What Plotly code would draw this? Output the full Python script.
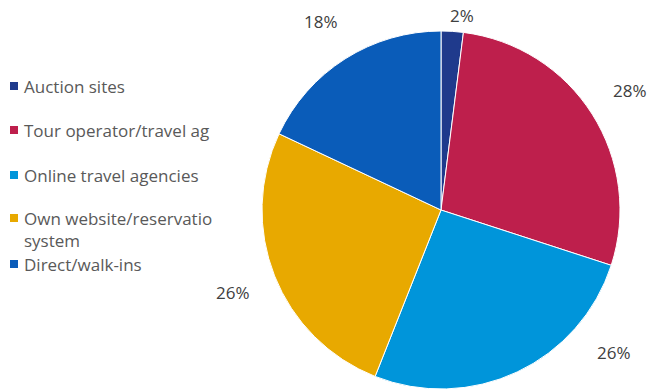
import math
import plotly.graph_objects as go

# Booking channel shares
channels = [
    "Auction sites",
    "Tour operator/travel agents",
    "Online travel agencies",
    "Own website/reservation system",
    "Direct/walk-ins",
]
shares = [2, 28, 26, 26, 18]
legend_text = [
    "Auction sites",
    "Tour operator/travel ag",
    "Online travel agencies",
    "Own website/reservatio<br>system",
    "Direct/walk-ins",
]
colors = ["#1f3a8c", "#be1f4c", "#0095da", "#e8a900", "#0a5cb9"]

W, H = 671, 389
FONT = "Open Sans"
TEXT_COLOR = "#595959"

dom_x = [262 / W, 620 / W]
dom_y = [0.0, (H - 31) / H]

fig = go.Figure(
    go.Pie(
        labels=channels,
        values=shares,
        sort=False,
        direction="clockwise",
        rotation=0,
        marker=dict(colors=colors, line=dict(color="white", width=1)),
        textinfo="none",
        hoverinfo="label+percent",
        showlegend=False,
        domain=dict(x=dom_x, y=dom_y),
    )
)

# Percentage labels placed outside each slice at its mid-angle,
# slid sideways along the label ring when they would leave the page
cx = (dom_x[0] + dom_x[1]) / 2 * W
cy = (1 - (dom_y[0] + dom_y[1]) / 2) * H
radius = (dom_x[1] - dom_x[0]) * W / 2
y_min, y_max = 16, H - 37
total = sum(shares)
acc = 0
annotations = []
for v in shares:
    mid = (acc + v / 2) / total * 2 * math.pi
    acc += v
    ring = (1.25 if v > 5 else 1.09) * radius
    px = cx + ring * math.sin(mid)
    py = cy - ring * math.cos(mid)
    if py > y_max or py < y_min:
        py = min(max(py, y_min), y_max)
        side = 1 if math.sin(mid) >= 0 else -1
        px = cx + side * math.sqrt(max(ring ** 2 - (py - cy) ** 2, 0))
    annotations.append(
        dict(
            x=px / W, y=1 - py / H, xref="paper", yref="paper",
            text=f"{round(v / total * 100)}%", showarrow=False,
            font=dict(family=FONT, size=17, color="#404040"),
            xanchor="center", yanchor="middle",
        )
    )

# Legend drawn as squares plus text rows
legend_rows = [86, 130, 175, 218, 264]
shapes = []
for name, col, ry in zip(legend_text, colors, legend_rows):
    shapes.append(
        dict(
            type="rect", xref="paper", yref="paper",
            x0=10 / W, x1=18 / W, y0=1 - (ry + 4) / H, y1=1 - (ry - 4) / H,
            fillcolor=col, line=dict(width=0),
        )
    )
    annotations.append(
        dict(
            x=22 / W, y=1 - (ry - 13) / H, xref="paper", yref="paper",
            text=name, showarrow=False, align="left",
            font=dict(family=FONT, size=17, color=TEXT_COLOR),
            xanchor="left", yanchor="top",
        )
    )

fig.update_layout(
    width=W, height=H,
    margin=dict(l=0, r=0, t=0, b=0),
    paper_bgcolor="white", plot_bgcolor="white",
    annotations=annotations, shapes=shapes,
)

fig.write_html("out.html")
